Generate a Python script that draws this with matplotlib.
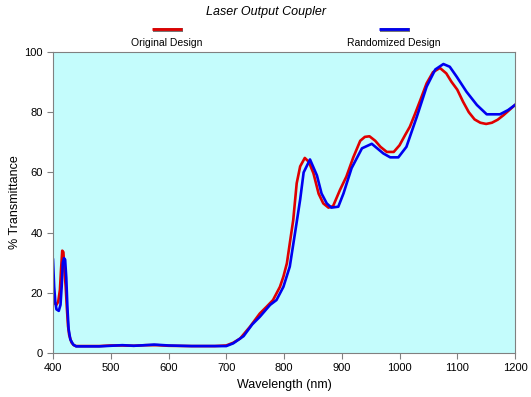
import numpy as np
import matplotlib.pyplot as plt
from matplotlib.lines import Line2D

plt.rcParams['font.family'] = ['Liberation Sans', 'DejaVu Sans']

# Original design (red)
wl_orig = [400, 403, 406, 409, 412, 414, 416, 418, 420, 422, 424, 426, 428, 432, 436, 440,
           460, 480, 500, 520, 540, 560, 580, 600, 640, 680, 700, 712, 724, 741, 758, 770,
           781, 793, 799, 805, 810, 816, 822, 828, 836, 843, 851, 860, 868, 877, 885, 897,
           908, 920, 932, 940, 948, 958, 967, 978, 990, 1000, 1010, 1018, 1027, 1036, 1047,
           1058, 1070, 1081, 1090, 1100, 1110, 1120, 1130, 1140, 1150, 1160, 1170, 1180,
           1190, 1200]
t_orig = [18.5, 16.5, 16, 17, 21, 28, 34, 33.5, 27, 22, 15, 9, 6, 3.5, 2.6, 2.3,
          2.3, 2.3, 2.5, 2.5, 2.4, 2.6, 2.6, 2.4, 2.3, 2.3, 2.5, 3.4, 4.8, 8.7, 13.1, 15.4,
          17.6, 22, 25.4, 29.8, 36.4, 44.2, 56.4, 62, 64.8, 63.5, 59.7, 52.9, 49.7, 48.3, 48.8, 54.2,
          58.6, 65, 70.5, 71.8, 72, 70.5, 68.5, 66.8, 66.8, 69, 72.5, 75.2, 79.5, 84, 89.6,
          93.3, 94.7, 92.9, 90.1, 87.5, 83.5, 80, 77.6, 76.5, 76.1, 76.5, 77.5, 79,
          80.7, 82.4]

# Randomized design (blue)
wl_rand = [400, 402, 404, 406, 410, 413, 415, 417, 419, 421, 423, 425, 427, 430, 435, 440,
           460, 480, 500, 520, 540, 560, 575, 600, 640, 680, 700, 712, 730, 745, 758, 776,
           787, 799, 810, 820, 828, 834, 845, 857, 865, 874, 882, 894, 903, 917, 935, 952,
           972, 984, 998, 1012, 1030, 1047, 1062, 1076, 1087, 1099, 1116, 1134, 1151, 1174,
           1188, 1200]
t_rand = [31, 22, 17, 14.5, 14, 16, 22, 30, 31.5, 31, 25, 15, 8, 4.5, 2.8, 2.2,
          2.2, 2.2, 2.4, 2.6, 2.4, 2.6, 2.8, 2.5, 2.3, 2.3, 2.3, 3.2, 5.6, 9.5, 12, 16,
          17.6, 22, 28.7, 41, 51, 60, 64.3, 59, 53, 49.7, 48.3, 48.6, 53, 61.4, 68, 69.5,
          66.3, 65, 65, 68.5, 78.5, 88.5, 94.2, 96, 95.1, 91.8, 86.8, 82.4, 79.3, 79.3,
          80.7, 82.4]

fig = plt.figure(figsize=(5.31, 3.97), dpi=100)
ax = fig.add_axes([53/531, 44/397, 462/531, 301/397])
ax.set_facecolor('#c4fcfc')

ax.plot(wl_orig, t_orig, color='#e00000', lw=1.9)
ax.plot(wl_rand, t_rand, color='#0000f0', lw=1.9)

ax.set_xlim(400, 1200)
ax.set_ylim(0, 100)
ax.set_xticks(np.arange(400, 1201, 100))
ax.set_yticks(np.arange(0, 101, 20))
for s in ax.spines.values():
    s.set_color('#808080')
ax.tick_params(colors='#808080', labelcolor='black', labelsize=8, length=4, direction='out')
ax.set_xlabel('Wavelength (nm)', fontsize=9, labelpad=4)
ax.set_ylabel('% Transmittance', fontsize=9)
ax.yaxis.set_label_coords(-32/462, 0.5)

fig.text(0.5, 1 - 12/397, 'Laser Output Coupler', ha='center', va='center',
         fontsize=9, style='italic')

# legend: short lines with shadow above labels
for x0, x1, c, lab in [(152, 182, '#e00000', 'Original Design'),
                       (379, 409, '#0000f0', 'Randomized Design')]:
    y = 1 - 28.5/397
    fig.add_artist(Line2D([(x0 + 1)/531, (x1 + 1)/531], [y - 1.2/397, y - 1.2/397],
                          color='#707070', lw=2.8, solid_capstyle='butt'))
    fig.add_artist(Line2D([x0/531, x1/531], [y, y], color=c, lw=2.0, solid_capstyle='butt'))
    fig.text((x0 + x1)/2/531, 1 - 43/397, lab, ha='center', va='center', fontsize=7.5)

fig.savefig('out.png', dpi=100)
